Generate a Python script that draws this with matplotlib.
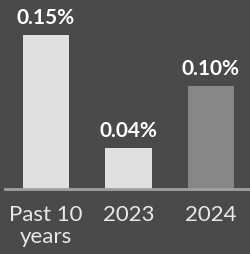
import matplotlib.pyplot as plt

# Chart data
categories = ['Past 10\nyears', '2023', '2024']
values = [0.15, 0.04, 0.10]
labels = ['0.15%', '0.04%', '0.10%']
bar_colors = ['#e0e0e0', '#e0e0e0', '#878787']

BG = '#4a4a4a'

plt.rcParams['font.family'] = ['Lato', 'DejaVu Sans']

fig = plt.figure(figsize=(2.5, 2.55), dpi=100, facecolor=BG)
ax = fig.add_axes([0.02, 0.255, 0.98, 0.745], facecolor=BG)

x = range(len(categories))
ax.bar(x, values, width=0.56, color=bar_colors, zorder=2)

for xi, v, lab in zip(x, values, labels):
    ax.annotate(lab, (xi, v), xytext=(0, 6), textcoords='offset points',
                ha='center', va='bottom', color='white', fontsize=15,
                fontweight='bold')

ax.set_xlim(-0.497, 2.473)
ax.set_ylim(0, 0.185)

ax.set_xticks(list(x))
ax.set_xticklabels(categories, color='#e8e8e8', fontsize=16, linespacing=1.13)
ax.tick_params(axis='x', length=0, pad=11)
ax.set_yticks([])

for side in ['top', 'right', 'left']:
    ax.spines[side].set_visible(False)
ax.spines['bottom'].set_color('#a0a0a0')
ax.spines['bottom'].set_linewidth(2)

fig.savefig('out.png', dpi=100, facecolor=BG)
